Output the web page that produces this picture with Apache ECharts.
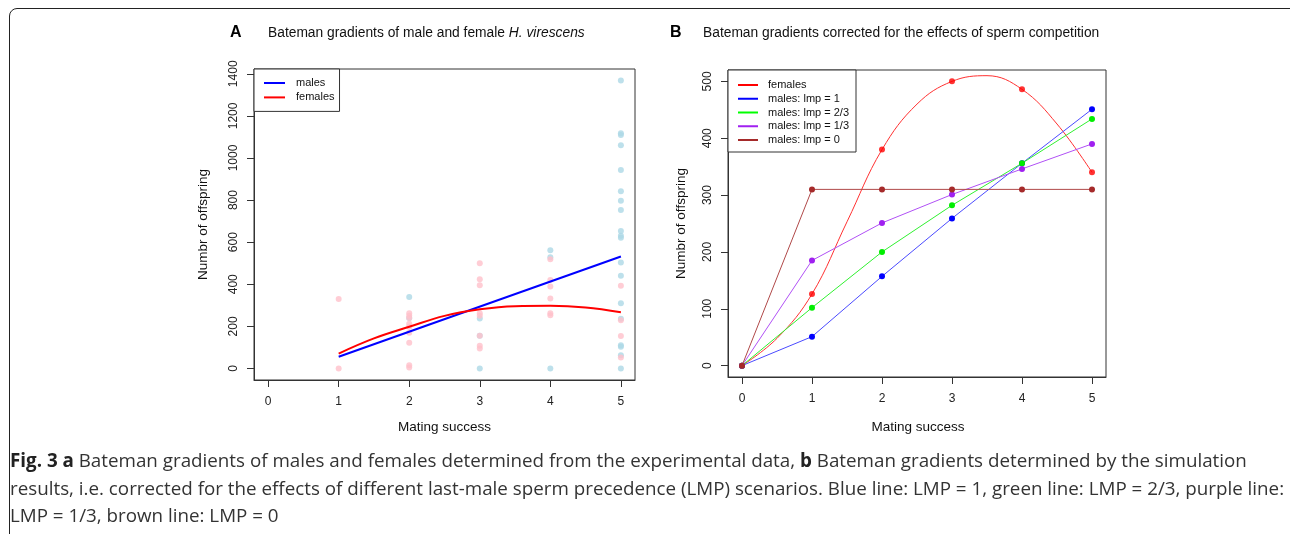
<!DOCTYPE html>
<html>
<head>
<meta charset="utf-8">
<script src="https://cdn.jsdelivr.net/npm/echarts@6/dist/echarts.min.js"></script>
<style>
  html, body { margin: 0; padding: 0; background: #fff; }
  #wrap { position: relative; width: 1290px; height: 534px; overflow: hidden; }
  #chart { position: absolute; left: 0; top: 0; width: 1290px; height: 534px; }
  #frame { position: absolute; left: 9px; top: 8px; width: 1290px; height: 535px;
           border: 1.5px solid #222; border-radius: 8px; pointer-events: none; box-sizing: border-box; }
</style>
</head>
<body>
<div id="wrap">
  <div id="chart"></div>
  <div id="frame"></div>
</div>
<script>
// ---------- Panel A data (experimental) ----------
const maleSuccess   = [2, 2, 3, 3, 3, 4, 4, 4,
                       5, 5, 5, 5, 5, 5, 5, 5, 5, 5, 5, 5, 5, 5, 5, 5, 5, 5, 5];
const maleOffspring = [340, 240, 238, 155, 0, 562, 528, 0,
                       1368, 1117, 1109, 1060, 943, 842, 797, 753, 653, 631, 621, 503, 441, 310, 236, 110, 103, 63, 0];
const femaleSuccess   = [1, 1, 2, 2, 2, 2, 2, 2, 2, 2, 2, 3, 3, 3, 3, 3, 3, 3, 3, 4, 4, 4, 4, 4, 4, 5, 5, 5, 5];
const femaleOffspring = [330, 0, 262, 250, 240, 212, 198, 170, 122, 15, 5,
                         500, 424, 395, 262, 250, 155, 108, 95,
                         519, 420, 389, 333, 262, 253,
                         393, 229, 154, 52];
// fitted gradients
const maleFitX = [1, 5];
const maleFitY = [56, 532];
const femaleFitX = [1, 1.5, 2, 2.5, 3, 3.5, 4, 4.5, 5];
const femaleFitY = [71, 143, 198, 250, 281, 296, 298, 290, 267];

// ---------- Panel B data (simulation) ----------
const successB = [0, 1, 2, 3, 4, 5];
const femalesB = [0, 126, 380, 500, 486, 340];
const lmp1     = [0, 51, 157, 259, 356, 451];
const lmp23    = [0, 102, 200, 282, 356, 434];
const lmp13    = [0, 185, 251, 301, 346, 390];
const lmp0     = [0, 310, 310, 310, 310, 310];
const femaleCurveX = [0, 0.5, 1, 1.5, 2, 2.5, 3, 3.5, 4, 4.5, 5];
const femaleCurveY = [0, 48, 126, 253, 380, 460, 500, 510, 486, 425, 340];

// ---------- tick labels ----------
const xTicks  = [0, 1, 2, 3, 4, 5];
const yTicksA = [0, 200, 400, 600, 800, 1000, 1200, 1400];
const yTicksB = [0, 100, 200, 300, 400, 500];

const FONT = 'Liberation Sans, Arial, sans-serif';
const AXC = '#333';

function pairs(xs, ys) { return xs.map((x, i) => [x, ys[i]]); }

function xAxisCfg(gridIndex) {
  return {
    type: 'value', gridIndex, min: -0.2, max: 5.2, position: 'bottom',
    splitLine: { show: false },
    axisLine: { show: true, onZero: false, lineStyle: { color: AXC, width: 1 } },
    axisTick: { show: true, inside: false, customValues: xTicks, length: 7, lineStyle: { color: '#333', width: 1 } },
    axisLabel: { customValues: xTicks, margin: 16, fontSize: 12, fontFamily: FONT, color: '#222',
                 formatter: v => String(v) }
  };
}
function yAxisCfg(gridIndex, min, max, ticks) {
  return {
    type: 'value', gridIndex, min, max, position: 'left',
    splitLine: { show: false },
    axisLine: { show: true, onZero: false, lineStyle: { color: AXC, width: 1 } },
    axisTick: { show: true, inside: false, customValues: ticks, length: 7, lineStyle: { color: '#333', width: 1 } },
    axisLabel: { customValues: ticks, rotate: 90, margin: 14, fontSize: 12, fontFamily: FONT, color: '#222',
                 formatter: v => String(v) }
  };
}

const chart = echarts.init(document.getElementById('chart'), null, { renderer: 'canvas' });

const option = {
  animation: false,
  grid: [
    { left: 254, top: 69, width: 381, height: 311, show: true, borderColor: AXC, borderWidth: 1, backgroundColor: 'transparent' },
    { left: 728, top: 70, width: 378, height: 307, show: true, borderColor: AXC, borderWidth: 1, backgroundColor: 'transparent' }
  ],
  xAxis: [xAxisCfg(0), xAxisCfg(1)],
  yAxis: [
    yAxisCfg(0, -54.7, 1422.7, yTicksA),
    yAxisCfg(1, -20, 520, yTicksB)
  ],
  legend: [
    {
      left: 254, top: 69, orient: 'vertical', selectedMode: false,
      icon: 'rect', itemWidth: 21, itemHeight: 2, itemGap: 0.4,
      padding: [7, 5, 7, 10],
      borderColor: AXC, borderWidth: 1, borderRadius: 0, backgroundColor: '#fff',
      textStyle: { fontSize: 11, fontFamily: FONT, color: '#111', lineHeight: 14, padding: [0, 0, 0, 6] },
      data: [
        { name: 'males', itemStyle: { color: '#0000ff' } },
        { name: 'females', itemStyle: { color: '#ff0000' } }
      ]
    },
    {
      left: 728, top: 70, orient: 'vertical', selectedMode: false,
      icon: 'rect', itemWidth: 20, itemHeight: 2, itemGap: 0.75,
      padding: [8.5, 7, 5.5, 10],
      borderColor: AXC, borderWidth: 1, borderRadius: 0, backgroundColor: '#fff',
      textStyle: { fontSize: 11, fontFamily: FONT, color: '#111', lineHeight: 13, padding: [0, 0, 0, 5] },
      data: [
        { name: 'females', itemStyle: { color: '#ff0000' } },
        { name: 'males: lmp = 1', itemStyle: { color: '#0000ff' } },
        { name: 'males: lmp = 2/3', itemStyle: { color: '#00ff00' } },
        { name: 'males: lmp = 1/3', itemStyle: { color: '#a020f0' } },
        { name: 'males: lmp = 0', itemStyle: { color: '#a52a2a' } }
      ]
    }
  ],
  series: [
    // ----- Panel A -----
    { name: 'male points', type: 'scatter', xAxisIndex: 0, yAxisIndex: 0,
      data: pairs(maleSuccess, maleOffspring), symbol: 'circle', symbolSize: 6,
      itemStyle: { color: '#add8e6' }, z: 2 },
    { name: 'female points', type: 'scatter', xAxisIndex: 0, yAxisIndex: 0,
      data: pairs(femaleSuccess, femaleOffspring), symbol: 'circle', symbolSize: 6,
      itemStyle: { color: '#ffc0cb' }, z: 3 },
    { name: 'males', type: 'line', xAxisIndex: 0, yAxisIndex: 0,
      data: pairs(maleFitX, maleFitY), showSymbol: false, symbol: 'none',
      lineStyle: { color: '#0000ff', width: 2 }, itemStyle: { color: '#0000ff' }, z: 4 },
    { name: 'females', type: 'line', xAxisIndex: 0, yAxisIndex: 0,
      data: pairs(femaleFitX, femaleFitY), showSymbol: false, symbol: 'none', smooth: 0.4,
      lineStyle: { color: '#ff0000', width: 2 }, itemStyle: { color: '#ff0000' }, z: 4 },
    // ----- Panel B -----
    { name: 'females', type: 'line', xAxisIndex: 1, yAxisIndex: 1,
      data: pairs(femaleCurveX, femaleCurveY), showSymbol: false, symbol: 'none', smooth: 0.4,
      lineStyle: { color: '#ff3030', width: 1 }, itemStyle: { color: '#ff0000' }, z: 3 },
    { name: 'female sim points', type: 'scatter', xAxisIndex: 1, yAxisIndex: 1,
      data: pairs(successB, femalesB), symbol: 'circle', symbolSize: 6,
      itemStyle: { color: '#ff0000' }, z: 4 },
    { name: 'males: lmp = 1', type: 'line', xAxisIndex: 1, yAxisIndex: 1,
      data: pairs(successB, lmp1), symbol: 'circle', symbolSize: 6, showSymbol: true,
      lineStyle: { color: '#4a4aff', width: 1 }, itemStyle: { color: '#0000ff' }, z: 5 },
    { name: 'males: lmp = 2/3', type: 'line', xAxisIndex: 1, yAxisIndex: 1,
      data: pairs(successB, lmp23), symbol: 'circle', symbolSize: 6, showSymbol: true,
      lineStyle: { color: '#30f030', width: 1 }, itemStyle: { color: '#00ee00' }, z: 6 },
    { name: 'males: lmp = 1/3', type: 'line', xAxisIndex: 1, yAxisIndex: 1,
      data: pairs(successB, lmp13), symbol: 'circle', symbolSize: 6, showSymbol: true,
      lineStyle: { color: '#b050f5', width: 1 }, itemStyle: { color: '#a020f0' }, z: 7 },
    { name: 'males: lmp = 0', type: 'line', xAxisIndex: 1, yAxisIndex: 1,
      data: pairs(successB, lmp0), symbol: 'circle', symbolSize: 6, showSymbol: true,
      lineStyle: { color: '#b04848', width: 1 }, itemStyle: { color: '#a52a2a' }, z: 8 }
  ],
  graphic: [
    // panel labels and titles
    { type: 'text', x: 230, y: 32.5, style: { text: 'A', font: 'bold 16px ' + FONT, fill: '#000', verticalAlign: 'middle' } },
    { type: 'text', x: 268, y: 33, style: {
        text: 'Bateman gradients of male and female {i|H. virescens}',
        font: '13.8px ' + FONT, fill: '#111', verticalAlign: 'middle',
        rich: { i: { fontStyle: 'italic', fontSize: 13.8, fontFamily: FONT, fill: '#111' } } } },
    { type: 'text', x: 670, y: 32.5, style: { text: 'B', font: 'bold 16px ' + FONT, fill: '#000', verticalAlign: 'middle' } },
    { type: 'text', x: 703, y: 33, style: {
        text: 'Bateman gradients corrected for the effects of sperm competition',
        font: '13.8px ' + FONT, fill: '#111', verticalAlign: 'middle' } },
    // axis titles
    { type: 'text', x: 203, y: 224.5, rotation: Math.PI / 2, style: {
        text: 'Numbr of offspring', font: '13.5px ' + FONT, fill: '#111', align: 'center', verticalAlign: 'middle' } },
    { type: 'text', x: 681, y: 223.5, rotation: Math.PI / 2, style: {
        text: 'Numbr of offspring', font: '13.5px ' + FONT, fill: '#111', align: 'center', verticalAlign: 'middle' } },
    { type: 'text', x: 444.5, y: 427, style: {
        text: 'Mating success', font: '13.5px ' + FONT, fill: '#111', align: 'center', verticalAlign: 'middle' } },
    { type: 'text', x: 918, y: 427, style: {
        text: 'Mating success', font: '13.5px ' + FONT, fill: '#111', align: 'center', verticalAlign: 'middle' } },
    // caption
    { type: 'text', x: 10, y: 462, style: {
        text: '{b|Fig. 3} {b|a} Bateman gradients of males and females determined from the experimental data, {b|b} Bateman gradients determined by the simulation',
        font: '18.8px Open Sans', fill: '#333', verticalAlign: 'middle',
        rich: { b: { fontWeight: 'bold', fontSize: 18.8, fontFamily: 'Open Sans', fill: '#222' } } } },
    { type: 'text', x: 10, y: 489.5, style: {
        text: 'results, i.e. corrected for the effects of different last-male sperm precedence (LMP) scenarios. Blue line: LMP = 1, green line: LMP = 2/3, purple line:',
        font: '18.8px Open Sans', fill: '#333', verticalAlign: 'middle' } },
    { type: 'text', x: 10, y: 517, style: {
        text: 'LMP = 1/3, brown line: LMP = 0',
        font: '18.8px Open Sans', fill: '#333', verticalAlign: 'middle' } }
  ]
};
chart.setOption(option);
</script>
</body>
</html>
